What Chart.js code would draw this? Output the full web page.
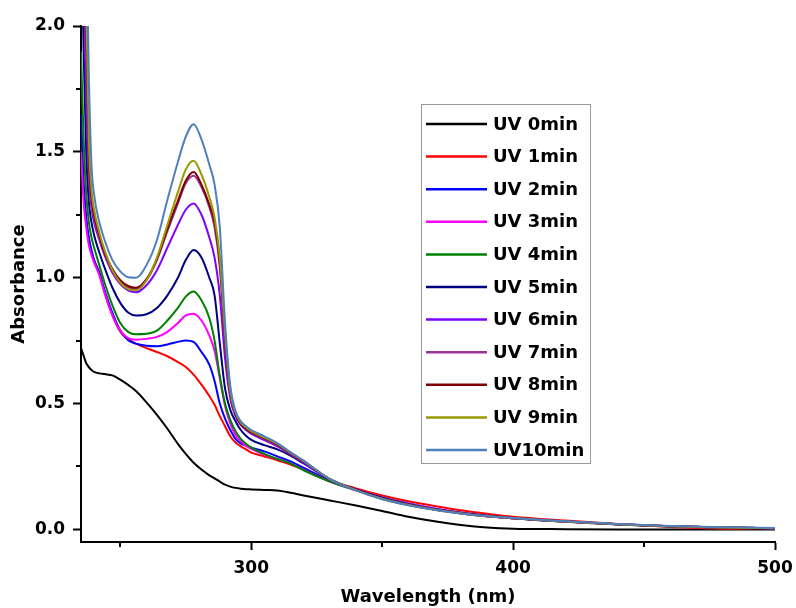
<!DOCTYPE html>
<html lang="en">
<head>
  <meta charset="UTF-8">
  <title>UV absorbance</title>
  <script src="https://cdn.jsdelivr.net/npm/chart.js"></script>
  <style>
    html, body { margin: 0; padding: 0; background: #fff; }
    #zone { width: 796px; height: 608px; position: relative; }
  </style>
</head>
<body>
  <div id="zone"><canvas id="graphique"></canvas></div>

  <script>
    const wavelengths = [235, 236, 237, 238, 239, 240, 242, 244, 247, 250, 253, 256, 260, 264, 268, 272, 275, 278,
      281, 284, 286, 288, 290, 292, 294, 296, 298, 300, 305, 310, 315, 320, 330, 340, 350, 360, 370, 380, 390, 400,
      420, 440, 460, 480, 500];

    const uv0 = [0.72, 0.69, 0.66, 0.645, 0.633, 0.626, 0.62, 0.617, 0.612, 0.595, 0.574, 0.55, 0.505, 0.455, 0.40, 0.34, 0.30, 0.265,
      0.238, 0.215, 0.203, 0.19, 0.178, 0.17, 0.165, 0.162, 0.16, 0.159, 0.157, 0.155, 0.146, 0.135, 0.115, 0.095, 0.073, 0.05, 0.032, 0.018, 0.008, 0.003,
      0.001, 0, 0, 0, 0];
    const uv1 = [1.6, 1.35, 1.22, 1.15, 1.1, 1.07, 1.02, 0.94, 0.85, 0.785, 0.755, 0.738, 0.72, 0.705, 0.688, 0.665, 0.645, 0.615,
      0.575, 0.53, 0.495, 0.45, 0.41, 0.37, 0.345, 0.33, 0.318, 0.305, 0.29, 0.275, 0.258, 0.238, 0.195, 0.163, 0.135, 0.112, 0.093, 0.076, 0.062, 0.05,
      0.035, 0.022, 0.01, 0.003, 0.006];
    const uv2 = [1.65, 1.38, 1.24, 1.16, 1.11, 1.07, 1.02, 0.95, 0.86, 0.79, 0.752, 0.738, 0.73, 0.728, 0.735, 0.745, 0.751, 0.745,
      0.705, 0.655, 0.59, 0.5, 0.44, 0.395, 0.36, 0.342, 0.333, 0.325, 0.31, 0.29, 0.27, 0.245, 0.193, 0.158, 0.127, 0.103, 0.083, 0.067, 0.054, 0.045,
      0.031, 0.021, 0.013, 0.008, 0.005];
    const uv3 = [1.5, 1.3, 1.2, 1.13, 1.09, 1.06, 1.01, 0.94, 0.85, 0.79, 0.76, 0.754, 0.757, 0.765, 0.785, 0.82, 0.85, 0.857,
      0.83, 0.77, 0.71, 0.6, 0.49, 0.42, 0.375, 0.35, 0.332, 0.32, 0.297, 0.28, 0.262, 0.237, 0.19, 0.156, 0.126, 0.102, 0.082, 0.066, 0.053, 0.044,
      0.03, 0.02, 0.012, 0.007, 0.005];
    const uv4 = [1.9, 1.55, 1.33, 1.22, 1.16, 1.12, 1.05, 0.98, 0.89, 0.82, 0.785, 0.775, 0.777, 0.79, 0.83, 0.88, 0.925, 0.945,
      0.91, 0.84, 0.75, 0.61, 0.5, 0.435, 0.39, 0.36, 0.34, 0.325, 0.3, 0.28, 0.262, 0.235, 0.19, 0.155, 0.125, 0.1, 0.08, 0.065, 0.053, 0.044,
      0.03, 0.02, 0.012, 0.007, 0.005];
    const uv5 = [2.5, 1.9, 1.5, 1.3, 1.22, 1.17, 1.1, 1.04, 0.96, 0.9, 0.862, 0.85, 0.855, 0.88, 0.93, 1.0, 1.07, 1.11,
      1.08, 1.0, 0.93, 0.74, 0.56, 0.475, 0.43, 0.395, 0.372, 0.356, 0.335, 0.318, 0.293, 0.262, 0.2, 0.158, 0.125, 0.1, 0.08, 0.065, 0.053, 0.045,
      0.031, 0.021, 0.013, 0.008, 0.005];
    const uv6 = [3.0, 2.3, 1.7, 1.4, 1.28, 1.22, 1.15, 1.09, 1.02, 0.975, 0.95, 0.942, 0.97, 1.03, 1.12, 1.21, 1.27, 1.295,
      1.25, 1.16, 1.08, 0.93, 0.68, 0.52, 0.45, 0.415, 0.395, 0.38, 0.355, 0.33, 0.298, 0.265, 0.198, 0.156, 0.122, 0.098, 0.079, 0.064, 0.052, 0.044,
      0.031, 0.021, 0.013, 0.008, 0.005];
    const uv7 = [3.0, 2.5, 1.9, 1.45, 1.3, 1.24, 1.16, 1.1, 1.03, 0.985, 0.962, 0.955, 0.99, 1.07, 1.185, 1.295, 1.375, 1.405,
      1.36, 1.28, 1.2, 1.04, 0.75, 0.54, 0.46, 0.42, 0.4, 0.385, 0.36, 0.335, 0.3, 0.268, 0.2, 0.156, 0.122, 0.098, 0.079, 0.064, 0.052, 0.044,
      0.031, 0.021, 0.013, 0.008, 0.005];
    const uv8 = [3.1, 2.6, 2.0, 1.5, 1.32, 1.25, 1.17, 1.1, 1.035, 0.99, 0.967, 0.96, 0.995, 1.075, 1.195, 1.305, 1.385, 1.42,
      1.37, 1.29, 1.22, 1.06, 0.76, 0.545, 0.46, 0.42, 0.4, 0.387, 0.362, 0.337, 0.302, 0.27, 0.2, 0.156, 0.122, 0.098, 0.079, 0.064, 0.052, 0.044,
      0.031, 0.021, 0.013, 0.008, 0.005];
    const uv9 = [3.2, 2.7, 2.1, 1.55, 1.35, 1.27, 1.18, 1.11, 1.03, 0.98, 0.955, 0.95, 0.99, 1.08, 1.21, 1.34, 1.43, 1.465,
      1.41, 1.32, 1.24, 1.08, 0.78, 0.55, 0.465, 0.425, 0.405, 0.39, 0.365, 0.34, 0.305, 0.272, 0.2, 0.156, 0.122, 0.097, 0.078, 0.064, 0.052, 0.045,
      0.031, 0.021, 0.013, 0.008, 0.005];
    const uv10 = [3.5, 3.0, 2.4, 1.8, 1.45, 1.33, 1.22, 1.15, 1.07, 1.025, 1.002, 1.0, 1.05, 1.15, 1.31, 1.46, 1.56, 1.61,
      1.55, 1.45, 1.37, 1.2, 0.82, 0.57, 0.47, 0.43, 0.41, 0.395, 0.37, 0.343, 0.307, 0.273, 0.2, 0.155, 0.12, 0.096, 0.078, 0.063, 0.052, 0.045,
      0.032, 0.022, 0.014, 0.009, 0.006];

    const seriesNames = ["UV 0min", "UV 1min", "UV 2min", "UV 3min", "UV 4min", "UV 5min",
      "UV 6min", "UV 7min", "UV 8min", "UV 9min", "UV10min"];
    const seriesValues = [uv0, uv1, uv2, uv3, uv4, uv5, uv6, uv7, uv8, uv9, uv10];
    const seriesColors = ["#000000", "#ff0000", "#0000ff", "#ff00ff", "#008000", "#000080",
      "#8000ff", "#993399", "#800000", "#999900", "#4f7fbf"];

    const xTickValues = [250, 300, 350, 400, 450, 500];
    const xTickLabels = ["", "300", "", "400", "", "500"];
    const yTickValues = [0, 0.25, 0.5, 0.75, 1.0, 1.25, 1.5, 1.75, 2.0];
    const yTickLabels = ["0.0", "", "0.5", "", "1.0", "", "1.5", "", "2.0"];

    const police = "'DejaVu Sans', sans-serif";

    function labelFor(values, labels, v) {
      const i = values.findIndex(t => Math.abs(t - v) < 1e-6);
      return i >= 0 ? labels[i] : "";
    }

    // short minor ticks, drawn where the label is empty
    const minorTicks = {
      id: "minorTicks",
      afterDraw(chart) {
        const ctx = chart.ctx;
        const xs = chart.scales.x, ys = chart.scales.y;
        ctx.save();
        ctx.strokeStyle = "#000";
        ctx.lineWidth = 2;
        xTickValues.forEach((v, i) => {
          if (xTickLabels[i]) return;
          const px = Math.round(xs.getPixelForValue(v));
          ctx.beginPath();
          ctx.moveTo(px, ys.bottom);
          ctx.lineTo(px, ys.bottom + 5);
          ctx.stroke();
        });
        yTickValues.forEach((v, i) => {
          if (yTickLabels[i]) return;
          const py = Math.round(ys.getPixelForValue(v));
          ctx.beginPath();
          ctx.moveTo(xs.left, py);
          ctx.lineTo(xs.left - 5, py);
          ctx.stroke();
        });
        ctx.restore();
      }
    };

    const legendBox = {
      id: "legendBox",
      afterDraw(chart) {
        const ctx = chart.ctx;
        const x0 = 421, y0 = 104, w = 169, h = 359;
        ctx.save();
        ctx.fillStyle = "#fff";
        ctx.fillRect(x0, y0, w, h);
        ctx.strokeStyle = "#9a9a9a";
        ctx.lineWidth = 1;
        ctx.strokeRect(x0 + 0.5, y0 + 0.5, w, h);
        ctx.font = "bold 18px " + police;
        ctx.textBaseline = "middle";
        chart.data.datasets.forEach((ds, i) => {
          const y = 124 + i * 32.6;
          ctx.strokeStyle = ds.borderColor;
          ctx.lineWidth = 2.5;
          ctx.beginPath();
          ctx.moveTo(426, y);
          ctx.lineTo(487, y);
          ctx.stroke();
          ctx.fillStyle = "#000";
          ctx.fillText(ds.label, 493, y + 1);
        });
        ctx.restore();
      }
    };

    const datasets = seriesNames.map((nom, k) => ({
      label: nom,
      data: wavelengths.map((w, i) => ({ x: w, y: seriesValues[k][i] })),
      borderColor: seriesColors[k],
      borderWidth: 2,
      pointRadius: 0,
      fill: false,
      cubicInterpolationMode: "monotone",
      order: seriesNames.length - k
    }));

    new Chart(document.getElementById("graphique"), {
      type: "line",
      data: { datasets: datasets },
      plugins: [minorTicks, legendBox],
      options: {
        responsive: true,
        maintainAspectRatio: false,
        animation: false,
        layout: { padding: { top: 26, right: 21, left: 0, bottom: 0 } },
        plugins: { legend: { display: false }, tooltip: { enabled: false } },
        scales: {
          x: {
            type: "linear",
            min: 235,
            max: 500,
            afterFit: s => { s.height = 66; s.paddingLeft = 0; s.paddingRight = 0; },
            afterBuildTicks: s => { s.ticks = xTickValues.map(v => ({ value: v })); },
            border: { color: "#000", width: 2 },
            grid: {
              drawOnChartArea: false,
              tickLength: 8,
              tickWidth: 2,
              tickColor: c => (c.tick && labelFor(xTickValues, xTickLabels, c.tick.value)) ? "#000" : "rgba(0,0,0,0)"
            },
            ticks: {
              color: "#000",
              padding: 8,
              maxRotation: 0,
              autoSkip: false,
              font: { family: police, size: 17, weight: "bold" },
              callback: v => labelFor(xTickValues, xTickLabels, v)
            },
            title: {
              display: true,
              text: "Wavelength (nm)",
              color: "#000",
              padding: { top: 4, bottom: 0 },
              font: { family: police, size: 18, weight: "bold" }
            }
          },
          y: {
            type: "linear",
            min: -0.05,
            max: 2.0,
            afterFit: s => { s.width = 81; s.paddingTop = 0; s.paddingBottom = 0; },
            afterBuildTicks: s => { s.ticks = yTickValues.map(v => ({ value: v })); },
            border: { color: "#000", width: 2 },
            grid: {
              drawOnChartArea: false,
              tickLength: 8,
              tickWidth: 2,
              tickColor: c => (c.tick && labelFor(yTickValues, yTickLabels, c.tick.value)) ? "#000" : "rgba(0,0,0,0)"
            },
            ticks: {
              color: "#000",
              padding: 8,
              autoSkip: false,
              font: { family: police, size: 17, weight: "bold" },
              callback: v => labelFor(yTickValues, yTickLabels, v)
            },
            title: {
              display: true,
              text: "Absorbance",
              color: "#000",
              padding: { top: 9, bottom: 0 },
              font: { family: police, size: 18, weight: "bold" }
            }
          }
        }
      }
    });
  </script>
</body>
</html>
